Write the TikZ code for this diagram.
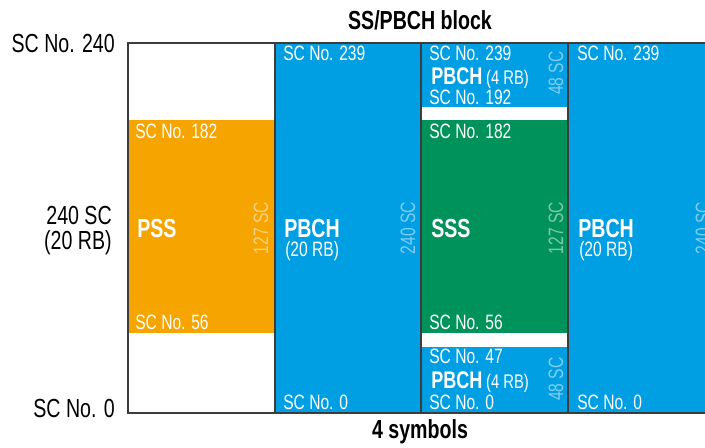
\documentclass[tikz,border=0pt]{standalone}
\usepackage{fontspec}
\setmainfont{Liberation Sans}[FakeStretch=0.75]
\definecolor{pssor}{HTML}{F5A400}
\definecolor{pbblue}{HTML}{009FE3}
\definecolor{sssgr}{HTML}{00925B}
\definecolor{rotor}{HTML}{FAD27F}
\definecolor{rotbl}{HTML}{80CDF0}
\definecolor{rotgr}{HTML}{7FC8A8}
\definecolor{frm}{HTML}{3C3C3C}
\begin{document}
\begin{tikzpicture}[x=0.75pt,y=-0.75pt,
  lab/.style={font=\fontsize{15.6}{17}\selectfont, text=white, inner sep=0, anchor=base west},
  big/.style={font=\bfseries\fontsize{19.6}{21}\selectfont, text=white, inner sep=0, anchor=base west},
  mid/.style={font=\bfseries\fontsize{18}{20}\selectfont, text=white, inner sep=0, anchor=base west},
  sml/.style={font=\fontsize{14.8}{16}\selectfont, text=white, inner sep=0, anchor=base west},
  side/.style={font=\fontsize{19.6}{21}\selectfont, text=black, inner sep=0, anchor=base east},
  ttl/.style={font=\bfseries\fontsize{19.6}{21}\selectfont, text=black, inner sep=0, anchor=base},
  rot/.style={font=\fontsize{15.6}{17}\selectfont, rotate=90, inner sep=0, anchor=center},
  frame/.style={draw=frm, line width=0.8pt}]
\useasboundingbox (0,0) rectangle (705,447);
\clip (0,0) rectangle (705,447);
% fills
\fill[pssor] (128,120) rectangle (275,333);
\fill[pbblue] (275,43) rectangle (421,413);
\fill[pbblue] (421,43) rectangle (568,107);
\fill[sssgr] (421,120) rectangle (568,333);
\fill[pbblue] (421,347) rectangle (568,413);
\fill[pbblue] (568,43) rectangle (720,413);
% frame
\draw[frame] (720,43) -- (128,43) -- (128,413) -- (720,413);
\draw[frame] (275,43) -- (275,413);
\draw[frame] (421,43) -- (421,413);
\draw[frame] (568,43) -- (568,413);
% titles
\node[ttl] (title) at (420,29) {SS/PBCH block};
\node[ttl] (sym) at (420,438) {4 symbols};
% side labels
\node[side] (s240) at (115,52) {SC No. 240};
\node[side] (s240sc) at (112,224) {240 SC};
\node[side] (s20rb) at (112,249) {(20 RB)};
\node[side] (s0) at (115,417) {SC No. 0};
% column 1
\node[lab] (c1a) at (135,138) {SC No. 182};
\node[big] (pss) at (137,237) {PSS};
\node[lab] (c1b) at (135,329) {SC No. 56};
\node[rot, text=rotor] (r1) at (261,228) {127 SC};
% column 2
\node[lab] (c2a) at (283,60) {SC No. 239};
\node[big] (pb2) at (284,237) {PBCH};
\node[lab] (c2rb) at (285,256) {(20 RB)};
\node[lab] (c2b) at (283,409) {SC No. 0};
\node[rot, text=rotbl] (r2) at (408,228) {240 SC};
% column 3
\node[lab] (c3a) at (429,60) {SC No. 239};
\node[mid] (pb3a) at (431,84) {PBCH};
\node[sml, anchor=base west] (rb3a) at (pb3a.base east) {\,(4 RB)};
\node[lab] (c3b) at (429,104) {SC No. 192};
\node[rot, text=rotbl] (r3a) at (556,73) {48 SC};
\node[lab] (c3c) at (429,138) {SC No. 182};
\node[big] (sss) at (431,237) {SSS};
\node[rot, text=rotgr] (r3b) at (556,228) {127 SC};
\node[lab] (c3d) at (429,329) {SC No. 56};
\node[lab] (c3e) at (429,363) {SC No. 47};
\node[mid] (pb3b) at (431,388) {PBCH};
\node[sml, anchor=base west] (rb3b) at (pb3b.base east) {\,(4 RB)};
\node[lab] (c3f) at (429,409) {SC No. 0};
\node[rot, text=rotbl] (r3c) at (556,379) {48 SC};
% column 4
\node[lab] (c4a) at (577,60) {SC No. 239};
\node[big] (pb4) at (578,237) {PBCH};
\node[lab] (c4rb) at (579,256) {(20 RB)};
\node[lab] (c4b) at (577,409) {SC No. 0};
\node[rot, text=rotbl] (r4) at (703,228) {240 SC};
\end{tikzpicture}
\end{document}
